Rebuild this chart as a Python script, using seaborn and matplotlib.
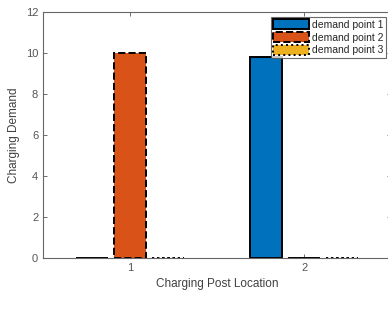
import pandas as pd
import matplotlib
matplotlib.use("Agg")
import matplotlib.pyplot as plt
import seaborn as sns

locations = ["1", "2"]
series = ["demand point 1", "demand point 2", "demand point 3"]
demand_p1 = [0, 9.8]
demand_p2 = [10, 0]
demand_p3 = [0, 0]

colors = ["#0072BD", "#D95319", "#EDB120"]
styles = ["-", "--", ":"]

df = pd.DataFrame({
    "location": locations * 3,
    "series": [s for s in series for _ in locations],
    "demand": demand_p1 + demand_p2 + demand_p3,
})

sns.set_style("white")
plt.rcParams["font.family"] = ["Liberation Sans", "DejaVu Sans"]

fig = plt.figure(figsize=(3.88, 3.23), dpi=100)
ax = fig.add_axes([0.111, 0.201, 0.897, 0.762])

sns.barplot(data=df, x="location", y="demand", hue="series", palette=colors,
            width=0.65, gap=0.15, edgecolor="black", linewidth=1.4,
            saturation=1, ax=ax, legend=True)

for cont, ls in zip(ax.containers, styles):
    for bar in cont:
        bar.set_linestyle(ls)

ax.set_xlim(-0.5, 1.5)
ax.set_ylim(0, 12)
ax.set_yticks([0, 2, 4, 6, 8, 10, 12])
ax.set_xlabel("Charging Post Location", fontsize=8.5, color="#404040")
ax.set_ylabel("Charging Demand", fontsize=8.5, color="#404040")
ax.tick_params(axis="both", labelsize=8, colors="#555555", direction="in",
               length=3, width=0.6, top=True, right=True, bottom=True, left=True)
for sp in ax.spines.values():
    sp.set_color("#666666")
    sp.set_linewidth(0.8)

handles, labels = ax.get_legend_handles_labels()
for h, ls in zip(handles, styles):
    h.set_linestyle(ls)
    h.set_edgecolor("black")
    h.set_linewidth(1.4)
leg = ax.legend(handles, labels, loc="upper right", bbox_to_anchor=(0.995, 0.948),
                bbox_transform=fig.transFigure, fontsize=7.5, frameon=True,
                fancybox=False, handlelength=3.4, handleheight=1.1,
                handletextpad=0.3, labelspacing=0.2, borderpad=0.25,
                borderaxespad=0)
leg.get_frame().set_edgecolor("#444444")
leg.get_frame().set_linewidth(0.8)

fig.savefig("out.png", dpi=100)
